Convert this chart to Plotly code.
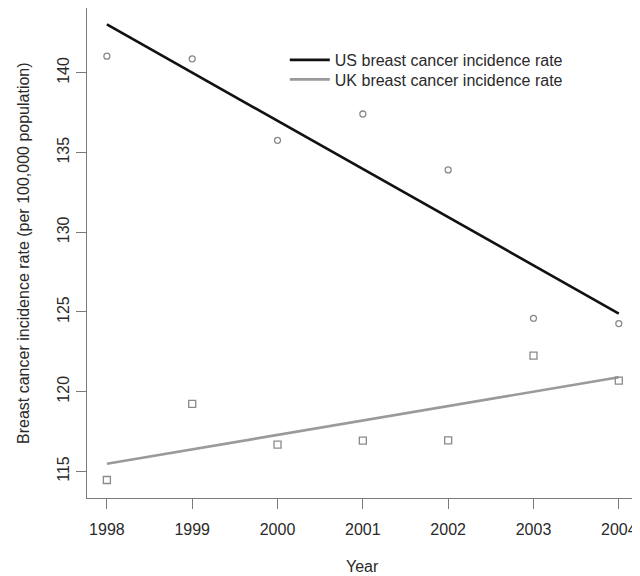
import plotly.graph_objects as go

years = [1998, 1999, 2000, 2001, 2002, 2003, 2004]
us_rate = [141.05, 140.88, 135.77, 137.42, 133.91, 124.6, 124.27]
uk_rate = [114.46, 119.23, 116.68, 116.93, 116.95, 122.26, 120.69]
fit_years = [1998, 2004]
us_fit = [143.04, 124.9]
uk_fit = [115.48, 120.9]
y_ticks = [115, 120, 125, 130, 135, 140]

FONT = "Liberation Sans, Arial, sans-serif"
AX = "#7a7a7a"
TXT = "#2a2a2a"

fig = go.Figure()
fig.add_trace(go.Scatter(x=fit_years, y=us_fit, mode="lines",
                         line=dict(color="#111111", width=2.6),
                         name="US breast cancer incidence rate", legend="legend"))
fig.add_trace(go.Scatter(x=fit_years, y=uk_fit, mode="lines",
                         line=dict(color="#9a9a9a", width=2.6),
                         name="UK breast cancer incidence rate", legend="legend2"))
fig.add_trace(go.Scatter(x=years, y=us_rate, mode="markers", showlegend=False,
                         marker=dict(symbol="circle-open", size=6, color="#8a8a8a",
                                     line=dict(width=1.3, color="#8a8a8a"))))
fig.add_trace(go.Scatter(x=years, y=uk_rate, mode="markers", showlegend=False,
                         marker=dict(symbol="square-open", size=7, color="#8a8a8a",
                                     line=dict(width=1.3, color="#8a8a8a"))))

leg_common = dict(xanchor="left", yanchor="top", bgcolor="rgba(0,0,0,0)",
                  font=dict(size=16, color=TXT), itemwidth=40)

fig.update_layout(
    width=632, height=568,
    margin=dict(l=79, r=2, t=0, b=78),
    paper_bgcolor="white", plot_bgcolor="white",
    font=dict(family=FONT, size=16, color=TXT),
    showlegend=True,
    legend=dict(x=0.359, y=0.9286, **leg_common),
    legend2=dict(x=0.359, y=0.8888, **leg_common),
    xaxis=dict(range=[1997.767, 2004.225], tickvals=years,
               showgrid=False, zeroline=False,
               showline=True, mirror=True, linecolor=AX, linewidth=1.4,
               ticks="outside", ticklen=10, tickcolor=AX, tickwidth=1.3,
               ticklabelstandoff=7,
               tickfont=dict(size=16, color=TXT)),
    yaxis=dict(range=[113.33, 144.07], tickvals=y_ticks,
               showgrid=False, zeroline=False,
               showline=True, mirror=True, linecolor=AX, linewidth=1.4,
               ticks="outside", ticklen=10, tickcolor=AX, tickwidth=1.3,
               tickangle=-90, tickfont=dict(size=16, color=TXT)),
    annotations=[
        dict(text="Year", xref="paper", yref="paper", x=0.5, y=-0.1388,
             xanchor="center", yanchor="middle", showarrow=False,
             font=dict(size=16, color=TXT)),
        dict(text="Breast cancer incidence rate (per 100,000 population)",
             xref="paper", yref="paper", x=-0.1162, y=0.5, textangle=-90,
             xanchor="center", yanchor="middle", showarrow=False,
             font=dict(size=16, color=TXT)),
    ],
)

fig.write_html("out.html")
